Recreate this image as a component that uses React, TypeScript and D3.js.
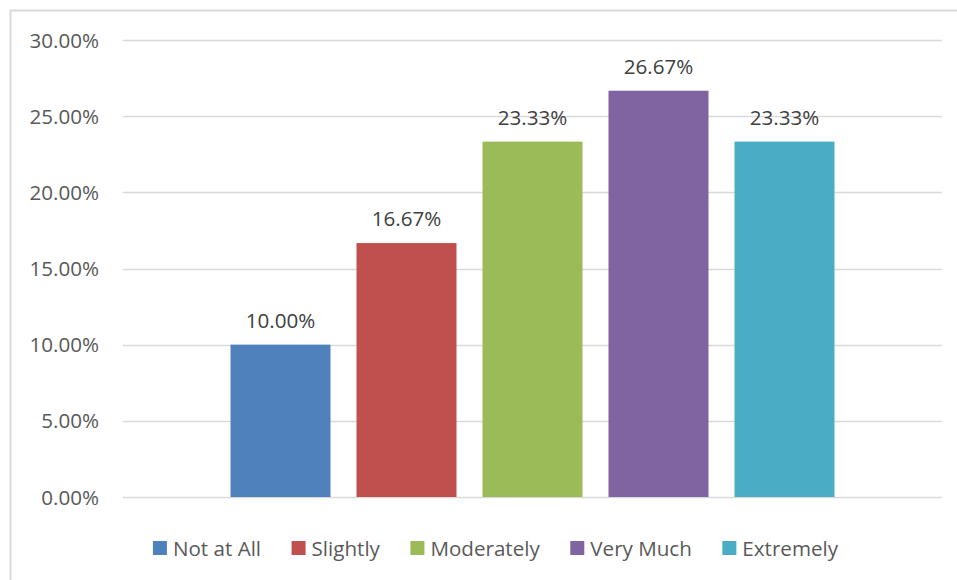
import React, { useEffect, useRef } from "react";
import * as d3 from "d3";

const categories = ["Total"];
const seriesNames = ["Not at All", "Slightly", "Moderately", "Very Much", "Extremely"];
const seriesValues = [10.0, 16.67, 23.33, 26.67, 23.33];
const seriesColors = ["#4F81BD", "#C0504D", "#9BBB59", "#8064A2", "#4BACC6"];
const yTicks = [0, 5, 10, 15, 20, 25, 30];

const W = 957;
const H = 580;
const FONT = "'Open Sans', 'Liberation Sans', sans-serif";
const FONT_SIZE = 20.6;

export default function App() {
  const ref = useRef<SVGSVGElement | null>(null);

  useEffect(() => {
    const svg = d3.select(ref.current);
    svg.selectAll("*").remove();

    const plot = { left: 123, right: 942, top: 40, bottom: 497 };

    // chart area frame
    svg
      .append("rect")
      .attr("x", 10.5)
      .attr("y", 10.5)
      .attr("width", 1000)
      .attr("height", 1000)
      .attr("fill", "#fff")
      .attr("stroke", "#D9D9D9")
      .attr("stroke-width", 2);

    const y = d3.scaleLinear().domain([0, 30]).range([plot.bottom, plot.top]);

    const x0 = d3
      .scaleBand<string>()
      .domain(categories)
      .range([plot.left, plot.right])
      .paddingInner(0)
      .paddingOuter(0.15);

    const x1 = d3
      .scaleBand<string>()
      .domain(seriesNames)
      .range([0, x0.bandwidth()])
      .paddingInner(26 / 126)
      .paddingOuter(13 / 126);

    // gridlines
    svg
      .append("g")
      .selectAll("line")
      .data(yTicks)
      .join("line")
      .attr("x1", plot.left)
      .attr("x2", plot.right)
      .attr("y1", (d) => Math.round(y(d)) + 0.5)
      .attr("y2", (d) => Math.round(y(d)) + 0.5)
      .attr("stroke", "#D9D9D9")
      .attr("stroke-width", 1.5);

    // y tick labels
    svg
      .append("g")
      .selectAll("text")
      .data(yTicks)
      .join("text")
      .attr("x", 99)
      .attr("y", (d) => y(d) + 7.5)
      .attr("text-anchor", "end")
      .attr("font-family", FONT)
      .attr("font-size", FONT_SIZE)
      .attr("fill", "#595959")
      .text((d) => d.toFixed(2) + "%");

    const groups = svg
      .append("g")
      .selectAll("g")
      .data(categories)
      .join("g")
      .attr("transform", (c) => `translate(${x0(c)},0)`);

    groups
      .selectAll("rect")
      .data(seriesNames.map((name, i) => ({ name, value: seriesValues[i], color: seriesColors[i] })))
      .join("rect")
      .attr("x", (d) => x1(d.name)!)
      .attr("width", x1.bandwidth())
      .attr("y", (d) => y(d.value))
      .attr("height", (d) => y(0) - y(d.value))
      .attr("fill", (d) => d.color);

    groups
      .selectAll("text")
      .data(seriesNames.map((name, i) => ({ name, value: seriesValues[i] })))
      .join("text")
      .attr("x", (d) => x1(d.name)! + x1.bandwidth() / 2)
      .attr("y", (d) => y(d.value) - 17)
      .attr("text-anchor", "middle")
      .attr("font-family", FONT)
      .attr("font-size", FONT_SIZE)
      .attr("fill", "#404040")
      .text((d) => d.value.toFixed(2) + "%");

    // legend
    const legend = svg.append("g");
    const items = legend
      .selectAll("g")
      .data(seriesNames.map((name, i) => ({ name, color: seriesColors[i] })))
      .join("g");
    items
      .append("rect")
      .attr("width", 14)
      .attr("height", 14)
      .attr("y", 541)
      .attr("fill", (d) => d.color);
    items
      .append("text")
      .attr("x", 20)
      .attr("y", 556)
      .attr("font-family", FONT)
      .attr("font-size", FONT_SIZE)
      .attr("fill", "#595959")
      .text((d) => d.name);

    const widths: number[] = [];
    items.each(function () {
      const t = d3.select(this).select("text").node() as SVGTextElement;
      widths.push(20 + t.getComputedTextLength());
    });
    const gap = 30.5;
    const total = d3.sum(widths) + gap * (widths.length - 1);
    let cx = 495.5 - total / 2;
    items.attr("transform", (_d, i) => {
      const tx = cx;
      cx += widths[i] + gap;
      return `translate(${tx},0)`;
    });
  }, []);

  return (
    <svg
      ref={ref}
      width={W}
      height={H}
      style={{ position: "absolute", left: 0, top: 0, background: "#fff" }}
    />
  );
}
